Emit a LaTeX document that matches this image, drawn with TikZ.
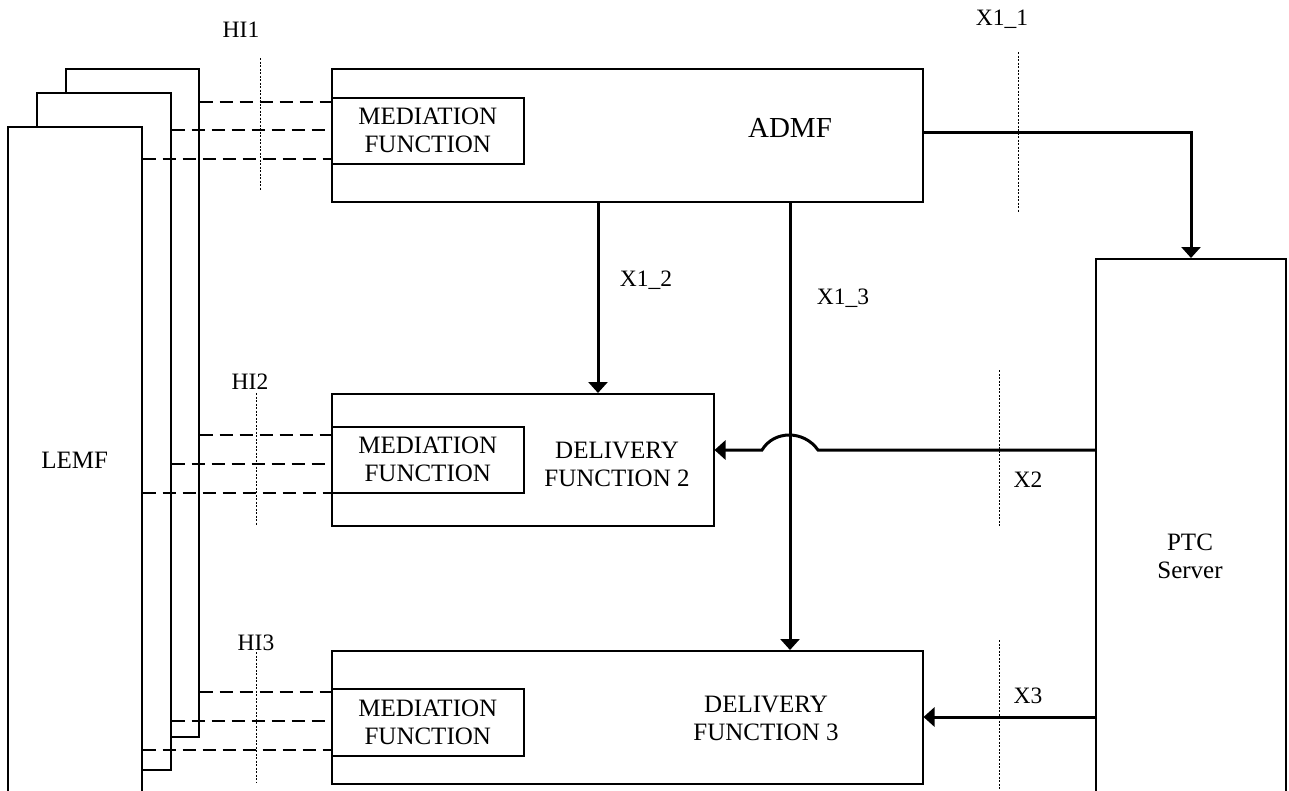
\documentclass[tikz,border=0pt]{standalone}
\usepackage{fontspec}
\setmainfont{Liberation Serif}
\usetikzlibrary{arrows.meta}
\begin{document}
\begin{tikzpicture}[x=1pt,y=-1pt,
  box/.style={draw,line width=1.5pt,fill=white,inner sep=0pt,anchor=north west},
  txt/.style={font=\fontsize{25}{28}\selectfont,align=center,inner sep=0pt},
  bigtxt/.style={font=\fontsize{29}{32}\selectfont,inner sep=0pt},
  lbl/.style={font=\fontsize{23.5}{25}\selectfont,inner sep=0pt},
  arr/.style={line width=3pt,-{Triangle[length=11pt,width=19pt]}},
  dashline/.style={line width=1.5pt,dash pattern=on 13pt off 7pt},
  refline/.style={line width=1pt,dash pattern=on 2pt off 1.5pt}]
\useasboundingbox (0,0) rectangle (1289,790);

% LEMF stack
\node[box,minimum width=133pt,minimum height=668pt] (lemfA) at (65,68) {};
\node[box,minimum width=134pt,minimum height=677pt] (lemfB) at (36,92) {};
\node[box,minimum width=134pt,minimum height=700pt] (lemfC) at (7,126) {};
\coordinate (lemfy) at (0,460);
\node[txt] (lemft) at (lemfC.center |- lemfy) {LEMF};

% ADMF
\node[box,minimum width=591pt,minimum height=133pt] (admf) at (331,68) {};
\node[box,minimum width=192pt,minimum height=66pt] (med1) at (331,97) {};
\node[txt] (med1t) at (med1.center) {MEDIATION\\FUNCTION};
\node[bigtxt] (admft) at (790,128) {ADMF};

% Delivery function 2
\node[box,minimum width=382pt,minimum height=132pt] (df2) at (331,393) {};
\node[box,minimum width=192pt,minimum height=66pt] (med2) at (331,426) {};
\node[txt] (med2t) at (med2.center) {MEDIATION\\FUNCTION};
\node[txt] (df2t) at (617,464) {DELIVERY\\FUNCTION 2};

% Delivery function 3
\node[box,minimum width=591pt,minimum height=133pt] (df3) at (331,650) {};
\node[box,minimum width=192pt,minimum height=67pt] (med3) at (331,688) {};
\node[txt] (med3t) at (med3.center) {MEDIATION\\FUNCTION};
\node[txt] (df3t) at (766,718) {DELIVERY\\FUNCTION 3};

% PTC Server
\node[box,minimum width=190pt,minimum height=560pt] (ptc) at (1095,258) {};
\node[txt] (ptct) at (1190,556) {PTC\\Server};

% HI dashed links
\foreach \y/\src/\dst in {102/lemfA/admf,130/lemfB/admf,159/lemfC/admf,
                          435/lemfA/df2,464/lemfB/df2,493/lemfC/df2,
                          692/lemfA/df3,721/lemfB/df3,750/lemfC/df3}{
  \coordinate (hy) at (0,\y);
  \draw[dashline] (\src.east |- hy) -- (\dst.west |- hy);
}

% reference (dotted) lines
\draw[refline] (260,58) -- (260,190);
\draw[refline] (256,393) -- (256,525);
\draw[refline] (256,652) -- (256,782);
\draw[refline] (1018,52) -- (1018,212);
\draw[refline] (999,370) -- (999,527);
\draw[refline] (999,640) -- (999,790);

% labels
\node[lbl] (hi1) at (241,30) {HI1};
\node[lbl] (hi2) at (250,382) {HI2};
\node[lbl] (hi3) at (256,643) {HI3};
\node[lbl] (x11) at (1002,19) {X1\_1};
\node[lbl] (x12) at (646,280) {X1\_2};
\node[lbl] (x13) at (843,298) {X1\_3};
\node[lbl] (x2) at (1028,480) {X2};
\node[lbl] (x3) at (1028,696) {X3};

% arrows
\coordinate (c11) at (1191,132);
\draw[arr] (admf.east |- c11) -- (c11) -- (ptc.north -| c11);
\coordinate (c12) at (598,0);
\draw[arr] (admf.south -| c12) -- (df2.north -| c12);
\coordinate (c13) at (790,0);
\draw[arr] (admf.south -| c13) -- (df3.north -| c13);
\coordinate (c2) at (0,450);
\coordinate (j1) at (818,450);
\coordinate (j2) at (762,450);
\draw[arr] (ptc.west |- c2) -- (j1) .. controls (804,430) and (774,430) .. (j2) -- (df2.east |- c2);
\coordinate (c3) at (0,717);
\draw[arr] (ptc.west |- c3) -- (df3.east |- c3);
\end{tikzpicture}
\end{document}
